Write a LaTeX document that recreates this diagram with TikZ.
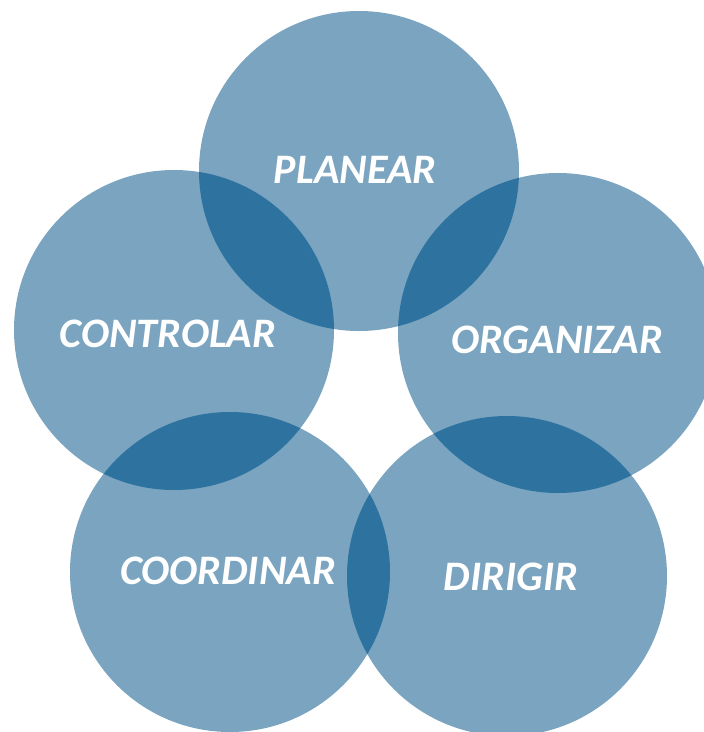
\documentclass[tikz,border=0pt]{standalone}
\usepackage{fontspec}
\setmainfont{Carlito}
\definecolor{lightb}{HTML}{7AA4BF}
\definecolor{darkb}{HTML}{2E73A0}
\tikzset{
  ring/.style={fill=lightb, draw=none},
  lens/.style={fill=darkb, draw=none},
  lbl/.style={text=white, font=\fontsize{42}{42}\selectfont\bfseries\itshape, inner sep=0pt}
}
\begin{document}
\begin{tikzpicture}[x=1pt,y=-1pt]
\useasboundingbox (0,0) rectangle (704,732);
\def\R{160}
\coordinate (cP) at (359,171);
\coordinate (cC) at (174,330);
\coordinate (cO) at (558,333);
\coordinate (cK) at (230,572);
\coordinate (cD) at (507,576);
\foreach \c in {cP,cC,cO,cK,cD} \fill[ring] (\c) circle[radius=\R];
\foreach \a/\b in {cP/cC,cP/cO,cC/cK,cO/cD,cK/cD}{
  \begin{scope}
    \clip (\a) circle[radius=\R];
    \fill[lens] (\b) circle[radius=\R];
  \end{scope}
}
\node[lbl] (planear) at (355,170) {PLANEAR};
\node[lbl] (controlar) at (168,334) {CONTROLAR};
\node[lbl] (organizar) at (557,340) {ORGANIZAR};
\node[lbl] (coordinar) at (228,571) {COORDINAR};
\node[lbl] (dirigir) at (511,577) {DIRIGIR};
\end{tikzpicture}
\end{document}
